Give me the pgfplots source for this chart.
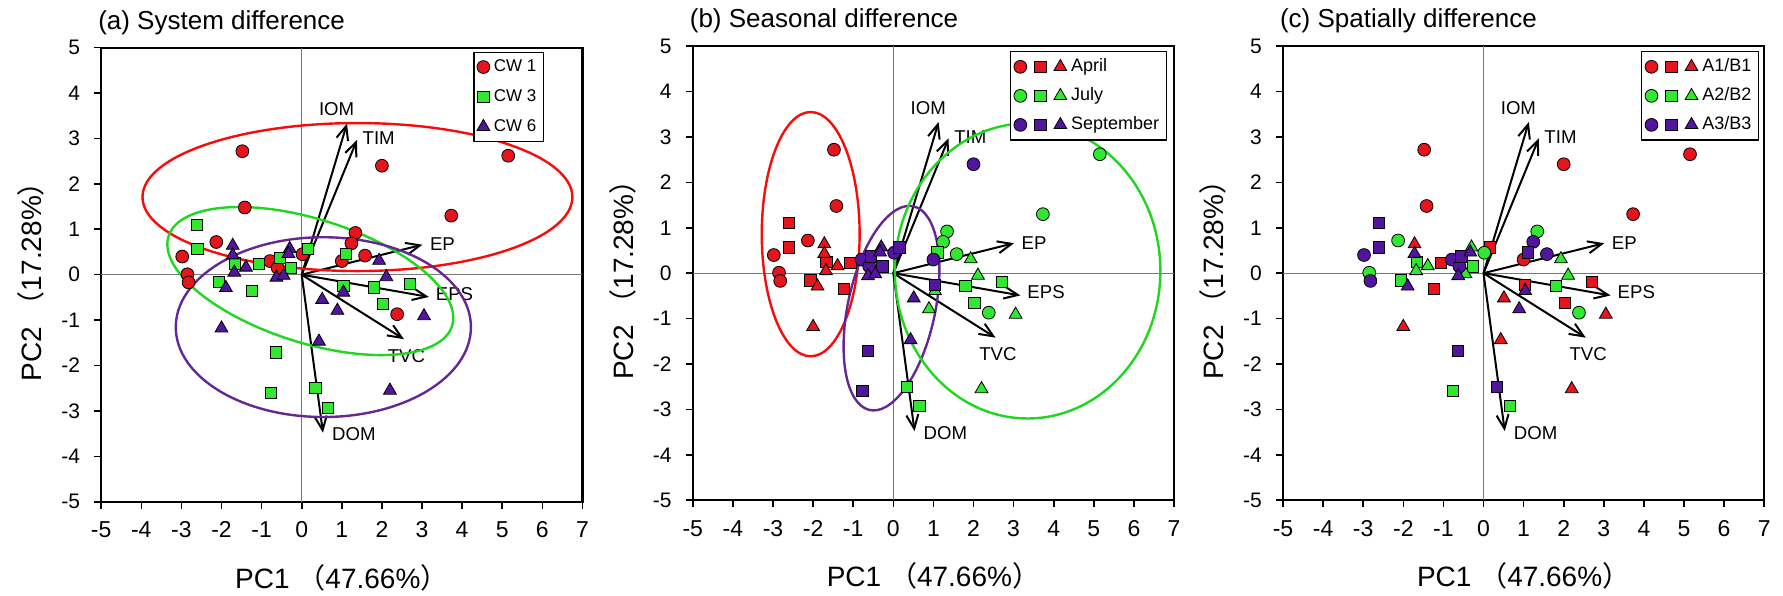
\documentclass[border=0pt]{standalone}
\usepackage{fontspec}
\setmainfont{Liberation Sans}
\newfontfamily\cjk{Noto Sans CJK SC}
\usepackage{pgfplots}
\pgfplotsset{compat=1.18}
\usetikzlibrary{arrows.meta}

\definecolor{mred}{RGB}{228,22,28}
\definecolor{mgreen}{RGB}{48,232,48}
\definecolor{mpurple}{RGB}{82,22,158}
\definecolor{ered}{RGB}{250,10,10}
\definecolor{egreen}{RGB}{30,215,30}
\definecolor{epurple}{RGB}{100,40,150}
\definecolor{zline}{RGB}{120,120,120}

\newcommand{\ellip}[7]{\pgfplotsextra{\begin{pgfscope}\pgfsetlinewidth{1.2pt}\pgfsetstrokecolor{#1}%
\pgfpathellipse{\pgfplotspointaxisxy{#2}{#3}}{\pgfplotspointaxisdirectionxy{#4}{#5}}{\pgfplotspointaxisdirectionxy{#6}{#7}}%
\pgfusepath{stroke}\end{pgfscope}}}

\newcommand{\zerolines}{%
\draw[zline, line width=0.6pt] (axis cs:0,-5) -- (axis cs:0,5);
\draw[zline, line width=0.6pt] (axis cs:-5,0) -- (axis cs:7,0);
}

\newcommand{\loadings}{%
\addplot[black, line width=1pt, -{Straight Barb[length=7pt,width=6pt]}, forget plot] coordinates {(0,0) (1.13,3.33)};
\addplot[black, line width=1pt, -{Straight Barb[length=7pt,width=6pt]}, forget plot] coordinates {(0,0) (1.38,2.97)};
\addplot[black, line width=1pt, -{Straight Barb[length=7pt,width=6pt]}, forget plot] coordinates {(0,0) (3.01,0.66)};
\addplot[black, line width=1pt, -{Straight Barb[length=7pt,width=6pt]}, forget plot] coordinates {(0,0) (3.17,-0.49)};
\addplot[black, line width=1pt, -{Straight Barb[length=7pt,width=6pt]}, forget plot] coordinates {(0,0) (2.55,-1.42)};
\addplot[black, line width=1pt, -{Straight Barb[length=7pt,width=6pt]}, forget plot] coordinates {(0,0) (0.53,-3.48)};
\node[font=\fontsize{9.3}{11}\selectfont] at (axis cs:0.87,3.64) {IOM};
\node[font=\fontsize{9.3}{11}\selectfont] at (axis cs:1.92,3.00) {TIM};
\node[font=\fontsize{9.3}{11}\selectfont] at (axis cs:3.51,0.67) {EP};
\node[font=\fontsize{9.3}{11}\selectfont] at (axis cs:3.81,-0.42) {EPS};
\node[font=\fontsize{9.3}{11}\selectfont] at (axis cs:2.61,-1.79) {TVC};
\node[font=\fontsize{9.3}{11}\selectfont] at (axis cs:1.30,-3.52) {DOM};
}

\pgfplotsset{
  /pgf/number format/assume math mode=true,
  circ/.style={only marks, mark=*, mark size=3.2pt, color=#1, mark options={draw=black, line width=0.4pt, fill=#1}},
  sq/.style={only marks, mark=square*, mark size=2.8pt, color=#1, mark options={draw=black, line width=0.4pt, fill=#1}},
  tri/.style={only marks, mark=triangle*, mark size=3.7pt, color=#1, mark options={draw=black, line width=0.4pt, fill=#1}},
  three/.style={legend image code/.code={%
    \draw[fill=#1,draw=black,line width=0.4pt] (0pt,0pt) circle (3.2pt);
    \draw[fill=#1,draw=black,line width=0.4pt] (7.2pt,-2.8pt) rectangle (12.8pt,2.8pt);
    \draw[fill=#1,draw=black,line width=0.4pt] (20pt,3.7pt) -- (23.2pt,-1.85pt) -- (16.8pt,-1.85pt) -- cycle;}},
  pca/.style={
    scale only axis, width=240.6pt, height=227pt, anchor=south west,
    xmin=-5, xmax=7, ymin=-5, ymax=5,
    xtick={-5,-4,...,7}, ytick={-5,-4,...,5},
    tick align=outside, xtick pos=bottom, ytick pos=left,
    major tick length=3.5pt,
    axis line style={line width=1.1pt},
    every tick/.style={black, line width=0.8pt},
    xticklabel style={font=\fontsize{11.5}{13}\selectfont, yshift=-3pt},
    yticklabel style={font=\fontsize{10.5}{12}\selectfont, xshift=-3.6pt},
    xlabel={PC1 {\cjk （}47.66\%{\cjk ）}},
    ylabel={PC2 {\cjk （}17.28\%{\cjk ）}},
    label style={font=\fontsize{14}{16}\selectfont},
    xlabel style={at={(axis description cs:0.5,0)}, anchor=base, yshift=-43.15pt},
    ylabel style={at={(axis description cs:-0.1455,0.5)}, anchor=center},
    title style={at={(axis description cs:0,1)}, anchor=base west, yshift=3.2pt, xshift=-5pt, font=\fontsize{13}{15}\selectfont},
    legend cell align=left,
  },
}

\begin{document}
\begin{tikzpicture}
\useasboundingbox (0pt,0pt) rectangle (891.5pt,297.5pt);

% ---------------- (a) ----------------
\begin{axis}[pca, at={(50.6pt,46.65pt)}, title={(a) System difference},
  legend style={at={(0.92,0.9905)}, anchor=north east, font=\fontsize{8.5}{9.5}\selectfont, draw=black, line width=0.6pt, inner sep=1.5pt, row sep=3.5pt}]
\zerolines
\loadings
\addplot[circ=mred] coordinates {(-1.48,2.72) (2.00,2.40) (5.15,2.62) (-1.42,1.48) (3.73,1.30) (-2.13,0.72) (-2.98,0.40) (-2.85,0.01) (-2.82,-0.17) (1.34,0.92) (1.24,0.69) (1.58,0.42) (1.00,0.30) (0.02,0.45) (-0.79,0.30) (-0.60,0.15) (2.38,-0.87)};
\addlegendentry{CW 1}
\addplot[sq=mgreen] coordinates {(-2.61,1.10) (-2.60,0.57) (-1.67,0.25) (-1.07,0.23) (-0.55,0.37) (-0.27,0.15) (0.15,0.57) (1.10,0.46) (-2.07,-0.16) (-1.24,-0.35) (1.04,-0.25) (1.80,-0.28) (2.70,-0.20) (2.02,-0.65) (-0.64,-1.71) (-0.77,-2.60) (0.34,-2.50) (0.65,-2.93)};
\addlegendentry{CW 3}
\addplot[tri=mpurple] coordinates {(-1.72,0.64) (-1.72,0.43) (-1.68,0.05) (-1.39,0.16) (-0.30,0.57) (-0.33,0.46) (-0.63,-0.06) (-0.45,-0.02) (-1.89,-0.29) (1.93,0.31) (2.11,-0.05) (1.04,-0.39) (0.51,-0.55) (0.89,-0.79) (3.05,-0.91) (-2.00,-1.18) (0.43,-1.47) (2.20,-2.55)};
\addlegendentry{CW 6}
\ellip{ered}{1.39}{1.71}{5.36}{0}{0}{1.63}
\ellip{egreen}{0.215}{-0.14}{3.565}{-0.81}{0}{1.415}
\ellip{epurple}{0.54}{-1.155}{3.68}{0}{0}{1.98}
\end{axis}

% ---------------- (b) ----------------
\begin{axis}[pca, at={(346.4pt,47.4pt)}, title={(b) Seasonal difference},
  legend style={at={(0.985,0.989)}, anchor=north east, font=\fontsize{9}{10}\selectfont, draw=black, line width=0.6pt, inner sep=1.5pt, row sep=2.5pt}]
\zerolines
\loadings
% April
\addplot[circ=mred, forget plot] coordinates {(-1.48,2.72) (-1.42,1.48) (-2.13,0.72) (-2.98,0.40) (-2.85,0.01) (-2.82,-0.17)};
\addplot[sq=mred, forget plot] coordinates {(-2.61,1.10) (-2.60,0.57) (-1.67,0.25) (-1.07,0.23) (-2.07,-0.16) (-1.24,-0.35)};
\addplot[tri=mred, forget plot] coordinates {(-1.72,0.64) (-1.72,0.43) (-1.68,0.05) (-1.39,0.16) (-1.89,-0.29) (-2.00,-1.18)};
% July
\addplot[circ=mgreen, forget plot] coordinates {(5.15,2.62) (3.73,1.30) (1.34,0.92) (1.24,0.69) (1.58,0.42) (2.38,-0.87)};
\addplot[sq=mgreen, forget plot] coordinates {(1.10,0.46) (1.80,-0.28) (2.70,-0.20) (2.02,-0.65) (0.34,-2.50) (0.65,-2.93)};
\addplot[tri=mgreen, forget plot] coordinates {(1.93,0.31) (2.11,-0.05) (1.04,-0.39) (0.89,-0.79) (3.05,-0.91) (2.20,-2.55)};
% September
\addplot[circ=mpurple, forget plot] coordinates {(2.00,2.40) (1.00,0.30) (0.02,0.45) (-0.79,0.30) (-0.60,0.15)};
\addplot[sq=mpurple, forget plot] coordinates {(-0.55,0.37) (-0.27,0.15) (0.15,0.57) (1.04,-0.25) (-0.64,-1.71) (-0.77,-2.60)};
\addplot[tri=mpurple, forget plot] coordinates {(-0.30,0.57) (-0.33,0.46) (-0.63,-0.06) (-0.45,-0.02) (0.51,-0.55) (0.43,-1.47)};
\addlegendimage{three=mred}\addlegendentry{April}
\addlegendimage{three=mgreen}\addlegendentry{July}
\addlegendimage{three=mpurple}\addlegendentry{September}
\ellip{ered}{-2.06}{0.86}{1.22}{0}{0}{2.69}
\ellip{epurple}{-0.045}{-0.77}{1.195}{0.84}{0}{2.09}
\ellip{egreen}{3.35}{0.05}{3.31}{0}{0}{3.25}
\end{axis}

% ---------------- (c) ----------------
\begin{axis}[pca, at={(641.5pt,47.4pt)}, title={(c) Spatially difference},
  legend style={at={(0.989,0.989)}, anchor=north east, font=\fontsize{9}{10}\selectfont, draw=black, line width=0.6pt, inner sep=1.5pt, row sep=2.5pt}]
\zerolines
\loadings
% A1/B1
\addplot[circ=mred, forget plot] coordinates {(-1.48,2.72) (2.00,2.40) (5.15,2.62) (-1.42,1.48) (3.73,1.30) (1.00,0.30)};
\addplot[sq=mred, forget plot] coordinates {(-1.07,0.23) (0.15,0.57) (-1.24,-0.35) (1.04,-0.25) (2.70,-0.20) (2.02,-0.65)};
\addplot[tri=mred, forget plot] coordinates {(-1.72,0.64) (0.51,-0.55) (3.05,-0.91) (-2.00,-1.18) (0.43,-1.47) (2.20,-2.55)};
% A2/B2
\addplot[circ=mgreen, forget plot] coordinates {(-2.13,0.72) (-2.85,0.01) (1.34,0.92) (0.02,0.45) (2.38,-0.87)};
\addplot[sq=mgreen, forget plot] coordinates {(-1.67,0.25) (-0.27,0.15) (-2.07,-0.16) (1.80,-0.28) (-0.77,-2.60) (0.65,-2.93)};
\addplot[tri=mgreen, forget plot] coordinates {(-1.68,0.05) (-1.39,0.16) (-0.30,0.57) (-0.45,-0.02) (1.93,0.31) (2.11,-0.05)};
% A3/B3
\addplot[circ=mpurple, forget plot] coordinates {(-2.98,0.40) (-2.82,-0.17) (1.24,0.69) (1.58,0.42) (-0.79,0.30) (-0.60,0.15)};
\addplot[sq=mpurple, forget plot] coordinates {(-2.61,1.10) (-2.60,0.57) (-0.55,0.37) (1.10,0.46) (-0.64,-1.71) (0.34,-2.50)};
\addplot[tri=mpurple, forget plot] coordinates {(-1.72,0.43) (-0.33,0.46) (-0.63,-0.06) (-1.89,-0.29) (1.04,-0.39) (0.89,-0.79)};
\addlegendimage{three=mred}\addlegendentry{A1/B1}
\addlegendimage{three=mgreen}\addlegendentry{A2/B2}
\addlegendimage{three=mpurple}\addlegendentry{A3/B3}
\end{axis}
\end{tikzpicture}
\end{document}
